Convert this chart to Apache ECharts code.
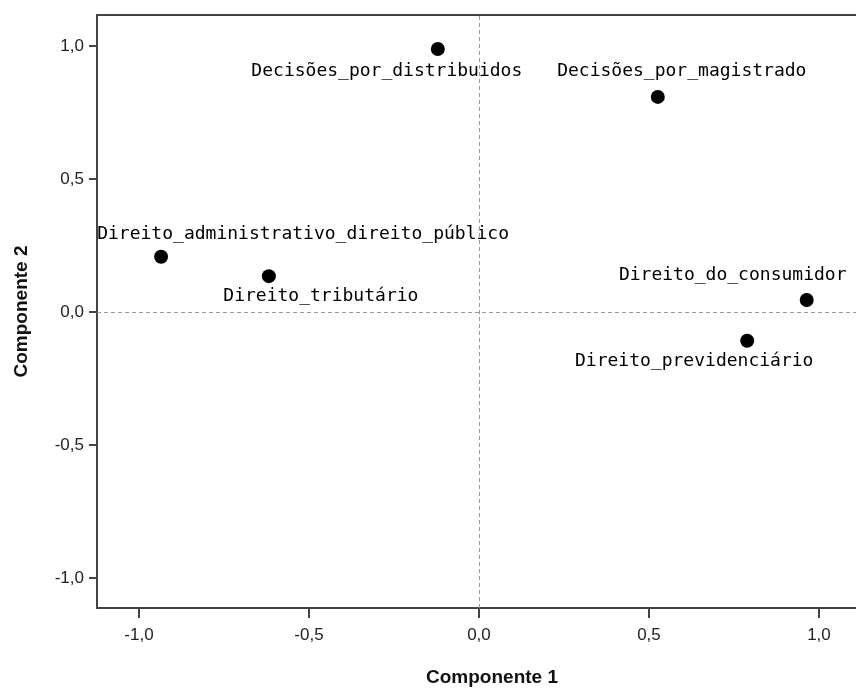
<!DOCTYPE html>
<html>
<head>
<meta charset="utf-8">
<script src="https://cdn.jsdelivr.net/npm/echarts@6/dist/echarts.min.js"></script>
<style>
  html, body { margin: 0; padding: 0; background: #fff; }
  #chart { width: 856px; height: 692px; }
</style>
</head>
<body>
<div id="chart"></div>
<script>
  // variáveis e cargas nos dois componentes
  const names = [
    'Decisões_por_distribuidos',
    'Decisões_por_magistrado',
    'Direito_administrativo_direito_público',
    'Direito_tributário',
    'Direito_do_consumidor',
    'Direito_previdenciário'
  ];
  const comp1 = [-0.121, 0.526, -0.935, -0.618, 0.964, 0.789];
  const comp2 = [0.989, 0.809, 0.208, 0.135, 0.045, -0.108];
  const tickValues = [-1, -0.5, 0, 0.5, 1];

  // deslocamento dos rótulos (px) em relação ao ponto
  const labelOffsets = [[-51, 22], [24, -26], [142, -22], [52, 20], [-74, -25], [-53, 21]];

  const fmt = v => v.toFixed(1).replace('.', ',');
  const axisColor = '#444';

  let myChart = echarts.init(document.getElementById('chart'));

  myChart.setOption({
    animation: false,
    backgroundColor: '#fff',
    grid: { left: 97, right: 0, top: 15, bottom: 83 },
    xAxis: [{
      type: 'value',
      min: -1.1235,
      max: 1.109,
      name: 'Componente 1',
      nameLocation: 'middle',
      nameGap: 60,
      nameTextStyle: {
        fontFamily: 'Liberation Sans',
        fontWeight: 'bold',
        fontSize: 19,
        color: '#111',
        padding: [0, 0, 0, 31]
      },
      axisLine: { show: true, onZero: false, lineStyle: { color: axisColor, width: 2 } },
      axisTick: { show: true, length: 10, customValues: tickValues, lineStyle: { color: axisColor, width: 2 } },
      axisLabel: {
        customValues: tickValues,
        formatter: fmt,
        margin: 19,
        fontFamily: 'Liberation Sans',
        fontSize: 17,
        color: '#222'
      },
      splitLine: { show: false }
    }, {
      // borda superior
      type: 'value',
      position: 'top',
      min: -1.1235,
      max: 1.109,
      axisLine: { show: true, onZero: false, lineStyle: { color: axisColor, width: 2 } },
      axisTick: { show: false },
      axisLabel: { show: false },
      splitLine: { show: false }
    }],
    yAxis: {
      type: 'value',
      min: -1.113,
      max: 1.117,
      name: 'Componente 2',
      nameLocation: 'middle',
      nameGap: 66,
      nameTextStyle: {
        fontFamily: 'Liberation Sans',
        fontWeight: 'bold',
        fontSize: 19,
        color: '#111'
      },
      axisLine: { show: true, onZero: false, lineStyle: { color: axisColor, width: 2 } },
      axisTick: { show: true, length: 8, customValues: tickValues, lineStyle: { color: axisColor, width: 2 } },
      axisLabel: {
        customValues: tickValues,
        formatter: fmt,
        margin: 13,
        fontFamily: 'Liberation Sans',
        fontSize: 17,
        color: '#222'
      },
      splitLine: { show: false }
    },
    series: [{
      type: 'scatter',
      symbol: 'circle',
      symbolSize: 14,
      itemStyle: { color: '#000', opacity: 1 },
      data: names.map((n, i) => ({
        name: n,
        value: [comp1[i], comp2[i]],
        label: { offset: labelOffsets[i] }
      })),
      label: {
        show: true,
        position: 'inside',
        align: 'center',
        verticalAlign: 'middle',
        formatter: '{b}',
        fontFamily: 'DejaVu Sans Mono',
        fontSize: 18,
        color: '#000',
        opacity: 1
      },
      markLine: {
        silent: true,
        symbol: ['none', 'none'],
        label: { show: false },
        lineStyle: { type: [4, 3], color: '#999', width: 1 },
        data: [{ xAxis: 0 }, { yAxis: 0 }]
      }
    }]
  });
</script>
</body>
</html>
